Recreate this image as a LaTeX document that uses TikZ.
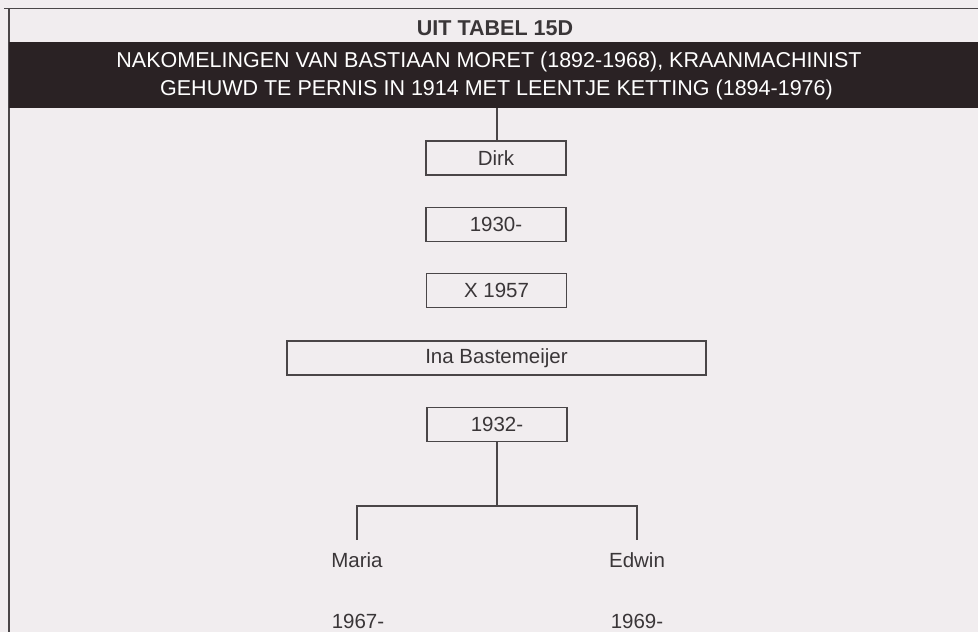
\documentclass[tikz,border=0pt]{standalone}
\usepackage{fontspec}
\setmainfont{Liberation Sans}
\definecolor{bg}{HTML}{F1EDEF}
\definecolor{band}{HTML}{2A2224}
\definecolor{ink}{HTML}{3A3638}
\definecolor{rule}{HTML}{4A4648}
\begin{document}
\begin{tikzpicture}[x=1pt,y=-1pt,
  every node/.style={text=ink,font=\fontsize{20.5}{24}\selectfont,inner sep=0pt},
  personbox/.style={draw=rule,line width=1.2pt,fill=bg,minimum height=34pt,minimum width=140pt},
  conn/.style={draw=rule,line width=1.2pt},
  headtxt/.style={text=white,font=\fontsize{21.5}{25}\selectfont}]
\fill[bg] (0,0) rectangle (978,632);
\useasboundingbox (0,0) rectangle (978,632);
% frame
\draw[rule,line width=1.5pt] (4,8.5) -- (978,8.5);
\draw[rule,line width=1.5pt] (9,8.5) -- (9,632);
% title and band
\node[font=\bfseries\fontsize{21.5}{25}\selectfont] (title) at (495,28) {UIT TABEL 15D};
\fill[band] (9,42) rectangle (978,108);
\coordinate (bandbot) at (497,108);
\node[headtxt] (h1) at (489,62) {NAKOMELINGEN VAN BASTIAAN MORET (1892-1968), KRAANMACHINIST};
\node[headtxt] (h2) at (496.5,90) {GEHUWD TE PERNIS IN 1914 MET LEENTJE KETTING (1894-1976)};
% boxes
\node[personbox] (dirk) at (496,158) {Dirk};
\node[personbox] (b1930) at (496,224.5) {1930-};
\node[personbox] (x1957) at (496.5,290.5) {X 1957};
\node[personbox,minimum width=419pt] (ina) at (496.5,358) {Ina Bastemeijer};
\node[personbox] (b1932) at (497,424.5) {1932-};
\draw[conn] (bandbot) -- (dirk.north -| bandbot);
% children
\coordinate (fork) at (497,506);
\coordinate (mtop) at (357,540);
\coordinate (etop) at (637,540);
\draw[conn] (b1932.south -| fork) -- (fork);
\draw[conn] (fork) -| (mtop);
\draw[conn] (fork) -| (etop);
\node (maria) at (357,560.5) {Maria};
\node (edwin) at (637,560) {Edwin};
\node (m1967) at (358,621.5) {1967-};
\node (e1969) at (637,621.5) {1969-};
\end{tikzpicture}
\end{document}
